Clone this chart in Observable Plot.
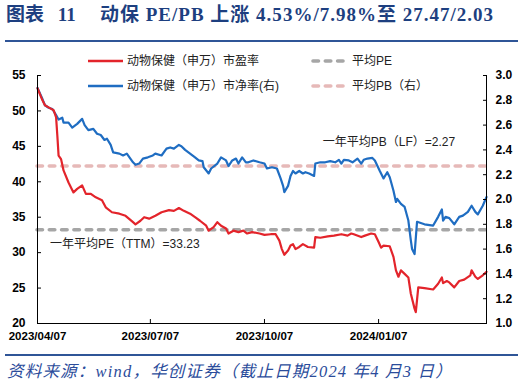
<!DOCTYPE html>
<html><head><meta charset="utf-8">
<script src="https://cdn.jsdelivr.net/npm/d3@7"></script>
<script src="https://cdn.jsdelivr.net/npm/@observablehq/plot@0.6"></script>
<style>
body{margin:0;background:#fff;}
#wrap{position:relative;width:524px;height:390px;overflow:hidden;}
#wrap svg.chart{position:absolute;left:0;top:0;}
.title{position:absolute;top:3px;font:bold 19px "Liberation Serif","Noto Sans CJK SC";color:#1d3f80;white-space:nowrap;line-height:24px;}
.rule{position:absolute;left:5px;width:513px;height:2px;background:#2f5597;}
.leg{position:absolute;font:12px "Liberation Sans","Noto Sans CJK SC";color:#222;white-space:nowrap;line-height:16px;}
.src{position:absolute;left:7px;top:362px;font:italic 16.5px "Liberation Serif","Noto Sans CJK SC";color:#2b4c9b;white-space:nowrap;line-height:20px;}
.sw{position:absolute;}
</style></head>
<body><div id="wrap"></div>
<script>
const peDates = ["2023-04-07","2023-04-11","2023-04-13","2023-04-17","2023-04-20","2023-04-22","2023-04-23","2023-04-24","2023-04-26","2023-04-28","2023-05-02","2023-05-06","2023-05-09","2023-05-13","2023-05-16","2023-05-20","2023-05-24","2023-05-29","2023-06-01","2023-06-06","2023-06-12","2023-06-17","2023-06-23","2023-06-25","2023-06-29","2023-07-02","2023-07-06","2023-07-11","2023-07-16","2023-07-22","2023-07-26","2023-07-30","2023-08-03","2023-08-08","2023-08-12","2023-08-16","2023-08-21","2023-08-23","2023-08-27","2023-08-30","2023-09-02","2023-09-06","2023-09-08","2023-09-12","2023-09-16","2023-09-20","2023-09-23","2023-09-27","2023-10-03","2023-10-07","2023-10-12","2023-10-16","2023-10-19","2023-10-21","2023-10-23","2023-10-26","2023-10-28","2023-10-30","2023-11-01","2023-11-04","2023-11-07","2023-11-11","2023-11-16","2023-11-17","2023-11-21","2023-11-27","2023-12-02","2023-12-08","2023-12-13","2023-12-16","2023-12-18","2023-12-24","2023-12-27","2024-01-01","2024-01-04","2024-01-07","2024-01-09","2024-01-11","2024-01-16","2024-01-19","2024-01-21","2024-01-23","2024-01-25","2024-01-28","2024-01-31","2024-02-02","2024-02-05","2024-02-06","2024-02-08","2024-02-13","2024-02-20","2024-02-24","2024-02-27","2024-02-28","2024-03-02","2024-03-04","2024-03-08","2024-03-12","2024-03-16","2024-03-21","2024-03-22","2024-03-25","2024-03-27","2024-03-31","2024-04-03"];
const peValues = [53.2,51.5,50.8,50.4,50.1,49.1,46.5,43.7,43.2,41.6,
39.9,38.5,39.0,39.5,38.3,38.3,37.8,37.4,36.4,35.7,
35.5,35.2,34.3,34.0,34.5,35.0,34.8,35.2,35.7,36.0,
35.9,36.3,35.9,35.5,35.0,34.5,33.8,33.1,33.6,34.3,
33.8,33.4,32.7,33.1,32.9,33.1,32.7,32.9,32.7,32.5,
32.6,32.6,31.7,30.5,29.7,30.3,31.0,31.2,30.5,30.8,
31.2,30.8,30.7,32.2,32.1,32.3,32.4,32.6,32.4,32.7,
32.6,32.2,32.4,32.7,32.6,31.5,30.7,31.0,30.9,29.4,
27.5,26.6,27.5,27.0,26.5,24.2,22.1,21.6,25.1,25.0,
24.8,25.6,26.5,25.7,26.0,25.8,25.1,26.0,26.2,26.8,
27.5,26.6,26.3,26.8,27.3];
const pbDates = ["2023-04-07","2023-04-11","2023-04-13","2023-04-16","2023-04-19","2023-04-22","2023-04-24","2023-04-27","2023-04-28","2023-05-02","2023-05-05","2023-05-09","2023-05-13","2023-05-15","2023-05-18","2023-05-22","2023-05-25","2023-05-28","2023-05-31","2023-06-02","2023-06-05","2023-06-07","2023-06-12","2023-06-15","2023-06-18","2023-06-23","2023-06-25","2023-06-28","2023-07-01","2023-07-05","2023-07-09","2023-07-11","2023-07-16","2023-07-20","2023-07-23","2023-07-26","2023-07-30","2023-08-01","2023-08-04","2023-08-08","2023-08-12","2023-08-15","2023-08-18","2023-08-19","2023-08-23","2023-08-25","2023-08-30","2023-09-02","2023-09-06","2023-09-08","2023-09-11","2023-09-14","2023-09-16","2023-09-19","2023-09-22","2023-09-24","2023-09-28","2023-10-03","2023-10-07","2023-10-09","2023-10-13","2023-10-17","2023-10-20","2023-10-22","2023-10-23","2023-10-26","2023-10-28","2023-10-30","2023-11-01","2023-11-04","2023-11-07","2023-11-09","2023-11-12","2023-11-16","2023-11-17","2023-11-21","2023-11-25","2023-11-29","2023-12-03","2023-12-06","2023-12-08","2023-12-10","2023-12-14","2023-12-17","2023-12-21","2023-12-24","2023-12-26","2023-12-29","2024-01-02","2024-01-04","2024-01-08","2024-01-10","2024-01-11","2024-01-14","2024-01-16","2024-01-19","2024-01-21","2024-01-22","2024-01-25","2024-01-28","2024-01-31","2024-02-02","2024-02-03","2024-02-05","2024-02-07","2024-02-13","2024-02-20","2024-02-24","2024-02-27","2024-02-28","2024-03-01","2024-03-04","2024-03-08","2024-03-12","2024-03-15","2024-03-19","2024-03-22","2024-03-25","2024-03-27","2024-03-31","2024-04-03"];
const pbValues = [2.90,2.81,2.76,2.74,2.73,2.68,2.645,2.66,2.62,2.62,
2.58,2.61,2.65,2.60,2.56,2.57,2.53,2.52,2.48,2.49,
2.44,2.38,2.37,2.355,2.37,2.30,2.28,2.29,2.33,2.34,
2.355,2.37,2.355,2.41,2.42,2.41,2.44,2.43,2.40,2.37,
2.34,2.315,2.31,2.26,2.21,2.25,2.29,2.34,2.315,2.27,
2.315,2.33,2.29,2.34,2.30,2.30,2.315,2.30,2.29,2.25,
2.26,2.25,2.17,2.11,2.06,2.11,2.19,2.23,2.21,2.23,
2.21,2.22,2.21,2.19,2.29,2.30,2.30,2.31,2.30,2.32,
2.29,2.32,2.315,2.30,2.33,2.29,2.32,2.33,2.335,2.315,
2.23,2.19,2.17,2.22,2.18,2.07,1.98,2.005,1.965,1.94,
1.83,1.67,1.60,1.56,1.82,1.80,1.79,1.86,1.92,1.83,
1.86,1.85,1.80,1.86,1.87,1.90,1.95,1.90,1.88,1.95,2.02];
const avgPE = 33.23;
const avgPB = 2.27;
const peTicks = [20,25,30,35,40,45,50,55];
const pbTicks = [1.0,1.2,1.4,1.6,1.8,2.0,2.2,2.4,2.6,2.8,3.0];
const xTicks = ["2023-04-07","2023-07-07","2023-10-07","2024-01-07"];
const xDomain = ["2023-04-07","2024-04-03"];
const seriesNames = ["动物保健（申万）市盈率","动物保健（申万）市净率(右)","平均PE","平均PB（右）"];
const titleLeft = "图表 11";
const titleRight = "动保 PE/PB 上涨 4.53%/7.98%至 27.47/2.03";
const source = "资料来源：wind，华创证券（截止日期2024 年4 月3 日）";

const RED = "#e3242b", BLUE = "#1f6dc2", GRAY = "#a6a6a6", PINK = "#e6b9b8";
// right axis (PB 1.0–3.0) maps onto left axis (PE 20–55)
const toPE = pb => 20 + (pb - 1) * 17.5;
const toPB = pe => 1 + (pe - 20) / 17.5;

const pe = peDates.map((d, i) => ({date: new Date(d), v: peValues[i]}));
const pb = pbDates.map((d, i) => ({date: new Date(d), v: toPE(pbValues[i])}));
const xd = xDomain.map(d => new Date(d));

const chart = Plot.plot({
  width: 524, height: 390,
  marginTop: 75, marginBottom: 67, marginLeft: 37, marginRight: 38,
  style: {fontFamily: "Liberation Sans, Noto Sans CJK SC", fontSize: "12px", color: "#000", background: "transparent"},
  x: {type: "utc", domain: xd, label: null},
  y: {domain: [20, 55], label: null},
  marks: [
    Plot.ruleY([avgPE], {stroke: GRAY, strokeWidth: 3.6, strokeDasharray: "5.5,6.8", strokeLinecap: "round"}),
    Plot.ruleY([toPE(avgPB)], {stroke: PINK, strokeWidth: 3.6, strokeDasharray: "5.5,6.8", strokeLinecap: "round"}),
    Plot.line(pb, {x: "date", y: "v", stroke: BLUE, strokeWidth: 2.2}),
    Plot.line(pe, {x: "date", y: "v", stroke: RED, strokeWidth: 2.2}),
    Plot.ruleX(xd, {stroke: "#000", strokeWidth: 1}),
    Plot.ruleY([20], {stroke: "#000", strokeWidth: 1}),
    Plot.axisY(peTicks, {anchor: "left", label: null, tickSize: -4, tickPadding: 16, fontWeight: "bold", fontSize: 12, stroke: "#000"}),
    Plot.axisY(pbTicks.map(toPE), {anchor: "right", label: null, tickSize: -4, tickPadding: 13, tickFormat: d => toPB(d).toFixed(1), fontWeight: "bold", fontSize: 12, stroke: "#000"}),
    Plot.axisX(xTicks.map(d => new Date(d)), {anchor: "bottom", label: null, tickSize: -4, tickPadding: 12, tickFormat: d3.utcFormat("%Y/%m/%d"), fontWeight: "bold", fontSize: 11.5, stroke: "#000"}),
    Plot.text([`一年平均PE（TTM）=${avgPE}`], {x: () => new Date("2023-04-17"), y: () => avgPE, text: d => d, dy: 14, textAnchor: "start", fontSize: 12, fill: "#222"}),
    Plot.text([`一年平均PB（LF）=${avgPB}`], {x: () => new Date("2023-11-23"), y: () => toPE(avgPB), text: d => d, dy: -24, textAnchor: "start", fontSize: 12, fill: "#222"})
  ]
});
chart.classList.add("chart");
const wrap = document.getElementById("wrap");
wrap.appendChild(chart);

function add(html) { wrap.insertAdjacentHTML("beforeend", html); return wrap.lastElementChild; }
function fit(el, w) {
  const nat = el.getBoundingClientRect().width;
  const n = [...el.textContent].length;
  el.style.letterSpacing = ((w - nat) / n) + "px";
}
const t1 = add(`<div class="title" style="left:6px;word-spacing:9px">${titleLeft}</div>`);
const t2 = add(`<div class="title" style="left:100px">${titleRight}</div>`);
fit(t2, 394);
add(`<div class="rule" style="top:40px"></div>`);
add(`<div class="rule" style="top:354px"></div>`);
function swatch(x, y, color, dashed) {
  const line = dashed
    ? `<line x1="3" y1="4" x2="33" y2="4" stroke="${color}" stroke-width="3.6" stroke-dasharray="5.5,6.8" stroke-linecap="round"/>`
    : `<line x1="0" y1="4" x2="35" y2="4" stroke="${color}" stroke-width="2.5"/>`;
  add(`<svg class="sw" style="left:${x}px;top:${y - 4}px" width="37" height="8">${line}</svg>`);
}
swatch(88, 61, RED, false);
swatch(88, 86, BLUE, false);
swatch(310, 61, GRAY, true);
swatch(310, 86, PINK, true);
add(`<div class="leg" style="left:127px;top:53px">${seriesNames[0]}</div>`);
add(`<div class="leg" style="left:127px;top:78px">${seriesNames[1]}</div>`);
add(`<div class="leg" style="left:352px;top:53px">${seriesNames[2]}</div>`);
add(`<div class="leg" style="left:352px;top:78px">${seriesNames[3]}</div>`);
const s = add(`<div class="src">${source}</div>`);
fit(s, 446);
</script>
</body></html>
